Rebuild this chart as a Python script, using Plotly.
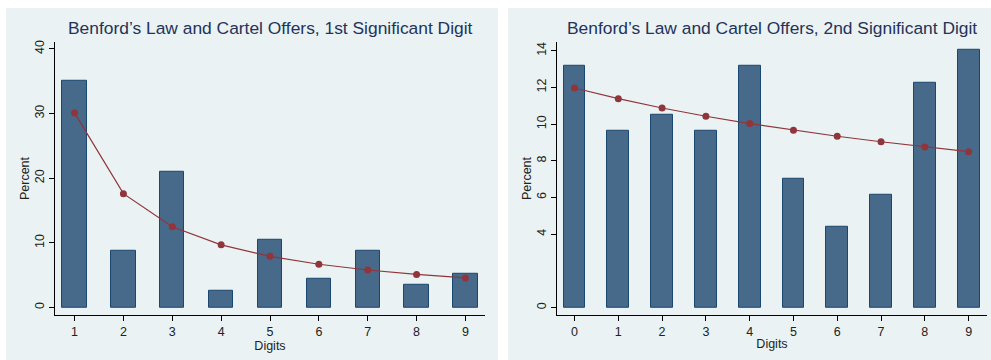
import plotly.graph_objects as go

# First significant digit: observed share of cartel offers vs. Benford expectation
digits_1st = [1, 2, 3, 4, 5, 6, 7, 8, 9]
offers_1st = [35.09, 8.77, 21.05, 2.63, 10.53, 4.39, 8.77, 3.51, 5.26]
benford_1st = [30.10, 17.61, 12.49, 9.69, 7.92, 6.69, 5.80, 5.12, 4.58]

# Second significant digit
digits_2nd = [0, 1, 2, 3, 4, 5, 6, 7, 8, 9]
offers_2nd = [13.16, 9.65, 10.53, 9.65, 13.16, 7.02, 4.39, 6.14, 12.28, 14.04]
benford_2nd = [11.97, 11.39, 10.88, 10.43, 10.03, 9.67, 9.34, 9.04, 8.76, 8.50]

yticks_1st = [0, 10, 20, 30, 40]
yticks_2nd = [0, 4, 6, 8, 10, 12, 14]

W, H = 991, 360
BAR_FILL = "#476a8b"
BAR_EDGE = "#1a476f"
LINE_COL = "#90353b"
PANEL_BG = "#eaf2f3"
TITLE_COL = "#24335a"
FONT = "Liberation Sans, Arial, sans-serif"


def px(x):
    return x / W


def py(y):
    return (H - y) / H


fig = go.Figure()

fig.add_trace(go.Bar(x=digits_1st, y=offers_1st, width=0.5,
                     marker=dict(color=BAR_FILL, line=dict(color=BAR_EDGE, width=1)),
                     xaxis="x", yaxis="y", showlegend=False))
fig.add_trace(go.Scatter(x=digits_1st, y=benford_1st, mode="lines+markers",
                         line=dict(color=LINE_COL, width=1.2),
                         marker=dict(color=LINE_COL, size=7),
                         xaxis="x", yaxis="y", showlegend=False))
fig.add_trace(go.Bar(x=digits_2nd, y=offers_2nd, width=0.5,
                     marker=dict(color=BAR_FILL, line=dict(color=BAR_EDGE, width=1)),
                     xaxis="x2", yaxis="y2", showlegend=False))
fig.add_trace(go.Scatter(x=digits_2nd, y=benford_2nd, mode="lines+markers",
                         line=dict(color=LINE_COL, width=1.2),
                         marker=dict(color=LINE_COL, size=7),
                         xaxis="x2", yaxis="y2", showlegend=False))

ydom = [py(315), py(40)]
common_x = dict(showline=True, linecolor="black", linewidth=1, ticks="outside",
                ticklen=5, tickcolor="black", showgrid=False, zeroline=False,
                tickfont=dict(size=12.5, color="#222"), fixedrange=True,
                title=dict(text="Digits", font=dict(size=12.5, color="#222"), standoff=0))
common_y = dict(showline=True, linecolor="black", linewidth=1, ticks="outside",
                ticklen=5, tickcolor="black", showgrid=True, gridcolor=PANEL_BG,
                gridwidth=1, zeroline=False, tickangle=-90,
                tickfont=dict(size=12.5, color="#222"), fixedrange=True,
                title=dict(text="Percent", font=dict(size=12.5, color="#222"), standoff=0))

fig.update_layout(
    width=W, height=H,
    margin=dict(l=0, r=0, t=0, b=0),
    paper_bgcolor="white",
    plot_bgcolor="white",
    bargap=0,
    font=dict(family=FONT),
    xaxis=dict(domain=[px(55), px(485)], range=[0.6, 9.4], anchor="y",
               tickvals=digits_1st, **common_x),
    yaxis=dict(domain=ydom, range=[-1.2, 41.1], anchor="x",
               tickvals=yticks_1st, **common_y),
    xaxis2=dict(domain=[px(557), px(987)], range=[-0.4, 9.42], anchor="y2",
                tickvals=digits_2nd, **common_x),
    yaxis2=dict(domain=ydom, range=[-0.42, 14.49], anchor="x2",
                tickvals=yticks_2nd, **common_y),
    shapes=[
        dict(type="rect", xref="paper", yref="paper", layer="below",
             x0=px(6), x1=px(498), y0=0, y1=py(6),
             fillcolor=PANEL_BG, line=dict(width=0)),
        dict(type="rect", xref="paper", yref="paper", layer="below",
             x0=px(508), x1=1.0, y0=0, y1=py(6),
             fillcolor=PANEL_BG, line=dict(width=0)),
    ],
    annotations=[
        dict(text="Benford’s Law and Cartel Offers, 1st Significant Digit",
             xref="paper", yref="paper", x=px(270), y=py(26),
             xanchor="center", yanchor="middle", showarrow=False,
             font=dict(size=17.4, color=TITLE_COL)),
        dict(text="Benford’s Law and Cartel Offers, 2nd Significant Digit",
             xref="paper", yref="paper", x=px(772), y=py(26),
             xanchor="center", yanchor="middle", showarrow=False,
             font=dict(size=17.4, color=TITLE_COL)),
    ],
)

fig.write_html("out.html")
